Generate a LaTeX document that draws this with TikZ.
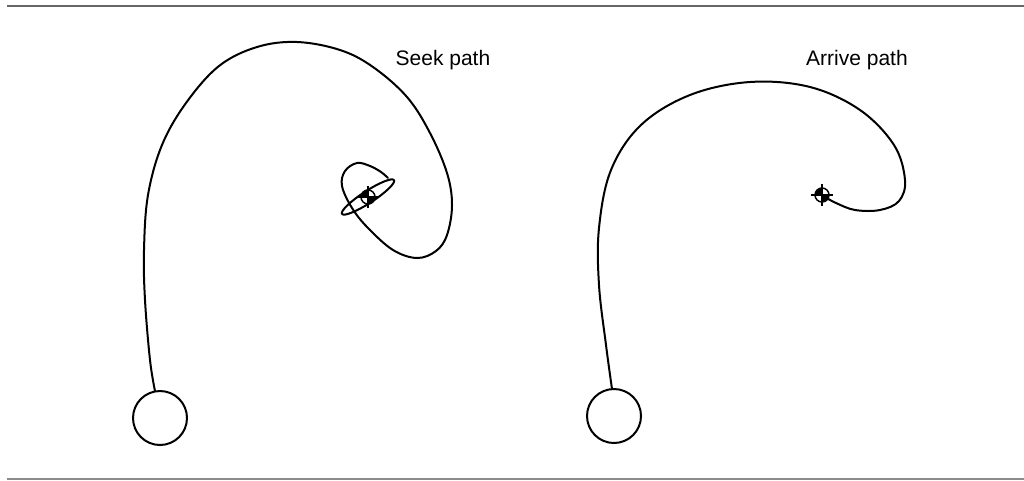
\documentclass[tikz,border=0pt]{standalone}
\usepackage{fontspec}
\setmainfont{Liberation Sans}
\begin{document}
\begin{tikzpicture}[x=1pt,y=-1pt,
  rule/.style={line width=2pt,draw=black!60},
  startbox/.style={draw,circle,line width=2pt,minimum size=54pt,inner sep=0pt},
  pathline/.style={line width=2pt,line cap=round,line join=round},
  lbl/.style={font=\fontsize{21}{24}\selectfont,anchor=base,inner sep=0pt},
  tgt/.pic={
    \fill[black] (0,0) -- (-7,0) arc[start angle=180,end angle=270,radius=7] -- cycle;
    \fill[black] (0,0) -- (7,0) arc[start angle=0,end angle=90,radius=7] -- cycle;
    \draw[line width=1.5pt] (0,0) circle[radius=7];
    \draw[line width=1.3pt] (-11,0) -- (11,0) (0,-11) -- (0,11);
  }]
\useasboundingbox (0,0) rectangle (1024,480);
\coordinate (ra) at (7,6);
\coordinate (rb) at (1024,6);
\coordinate (rc) at (7,479);
\coordinate (rd) at (1024,479);
\draw[rule] (ra) -- (rb);
\draw[line width=1.5pt,draw=black!45] (rc) -- (rd);
% start circles
\node[startbox] (s1) at (160,418) {};
\node[startbox] (s2) at (614,416) {};
% targets
\coordinate (t1) at (368,197);
\coordinate (t2) at (822,195);
% seek path
\draw[pathline] plot[smooth,tension=0.6] coordinates {
 (155,391) (150,360) (145,300) (144,250) (148,195) (162,145) (186,103) (219,66)
 (257,47) (297,42) (340,50) (373,67) (407,97) (430,133) (447,173) (452,205)
 (447,235) (436,251) (417,258) (393,250) (368,228) (352,208) (342,186) (345,171)
 (357,163) (370,166) (381,172) (388,178)};
\draw[pathline,rotate around={33:(t1)}] (t1) ellipse[x radius=31,y radius=6];
% arrive path
\draw[pathline] plot[smooth,tension=0.6] coordinates {
 (612,389) (606,345) (599,285) (599,228) (611,170) (641,125) (690,95) (750,82)
 (810,87) (860,110) (894,145) (905,180) (899,201) (880,210) (855,210) (836,203) (825,197)};
\pic at (t1) {tgt};
\pic at (t2) {tgt};
% labels
\node[lbl] (l1) at (443,65) {Seek path};
\node[lbl] (l2) at (857,65) {Arrive path};
\end{tikzpicture}
\end{document}
